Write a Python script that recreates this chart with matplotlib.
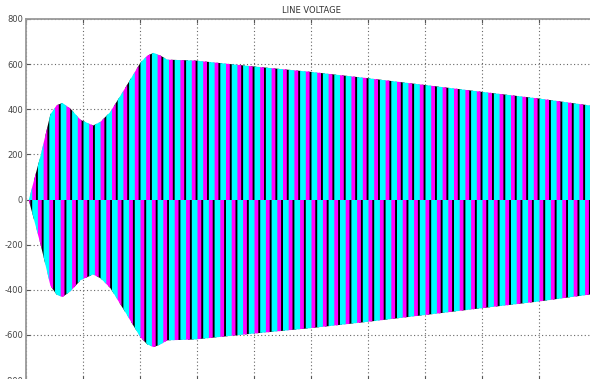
import numpy as np
import matplotlib
matplotlib.use("Agg")
import matplotlib.pyplot as plt

# Envelope of the line voltages
env_t = [0.0, 0.004, 0.025, 0.042, 0.053, 0.063, 0.077, 0.095, 0.117, 0.130, 0.147,
         0.174, 0.200, 0.212, 0.223, 0.235, 0.247, 0.296, 0.398, 0.498, 0.598,
         0.698, 0.800, 0.898, 1.0]
env_v = [0, 0, 200, 380, 420, 430, 405, 355, 330, 347, 390,
         500, 609, 640, 652, 640, 622, 618, 592, 568, 540,
         510, 479, 450, 415]

# Three line voltages: drawing order, colours and phase shifts (degrees)
phase_names = ["Vca", "Vbc", "Vab"]
phase_colors = ["black", "magenta", "cyan"]
phase_shift_deg = [240, 120, 0]
freq_hz = 50

yticks = [-800, -600, -400, -200, 0, 200, 400, 600, 800]
xticks = [0.0, 0.1, 0.2, 0.3, 0.4, 0.5, 0.6, 0.7, 0.8, 0.9, 1.0]

fig = plt.figure(figsize=(5.9, 3.79), dpi=100)
ax = fig.add_axes([26 / 590, -1 / 379, 570 / 590, 361 / 379])

t = np.linspace(0, 1, 200001)
env = np.interp(t, env_t, env_v)
for name, col, sh in zip(phase_names, phase_colors, phase_shift_deg):
    sq = np.sign(np.sin(2 * np.pi * freq_hz * t - np.deg2rad(sh)))
    ax.fill_between(t, 0, env * sq, color=col, linewidth=0, label=name)

ax.set_xlim(0, 1)
ax.set_ylim(-800, 800)
ax.set_xticks(xticks)
ax.set_yticks(yticks)
ax.set_yticklabels([str(v) for v in yticks])
ax.tick_params(axis="both", direction="in", length=3, width=0.8, colors="#555555",
               labelsize=6, labelcolor="#444444", top=True, right=True, pad=2)
ax.tick_params(axis="x", labelbottom=False)
ax.set_axisbelow(True)
ax.grid(True, linestyle=(0, (1, 2.2)), color="#666666", linewidth=0.8)
for s in ax.spines.values():
    s.set_color("#999999")
    s.set_linewidth(1.3)
ax.set_title("LINE VOLTAGE", fontsize=6, color="#333333", pad=4)

fig.savefig("out.png", dpi=100)
